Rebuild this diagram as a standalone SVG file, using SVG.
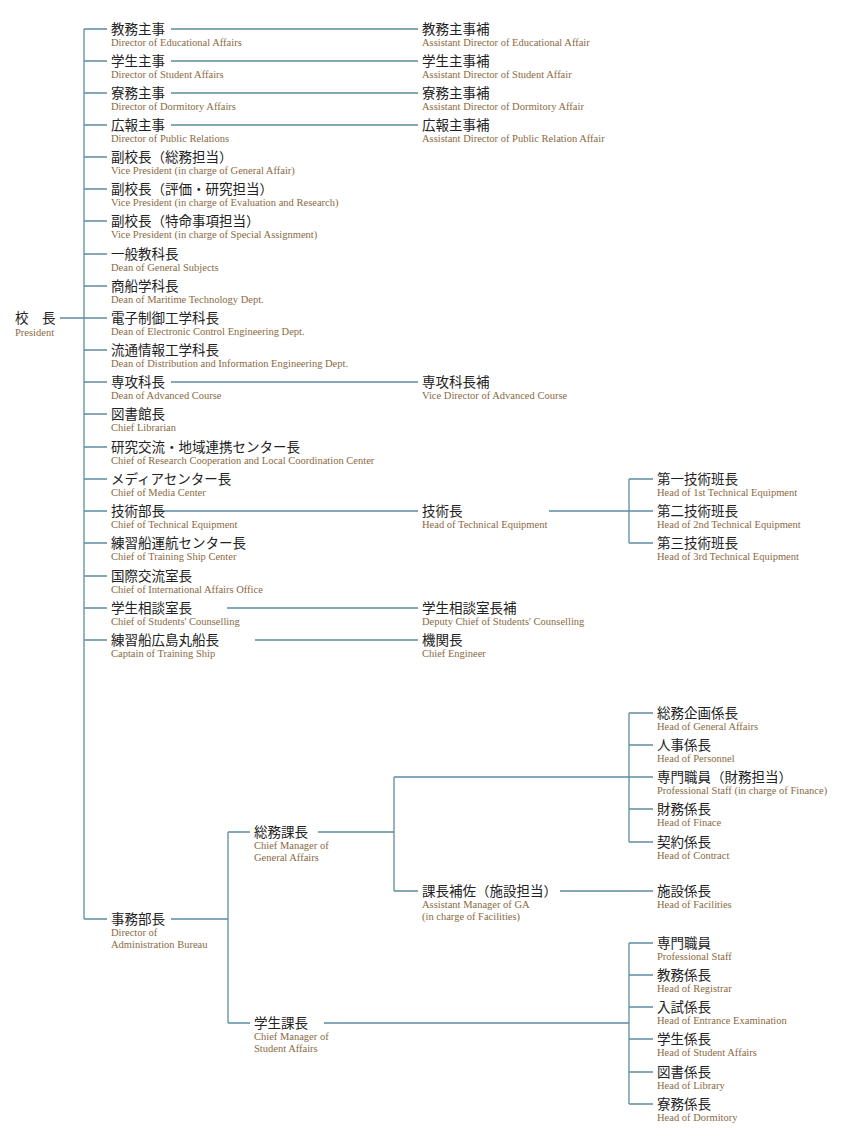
<svg xmlns="http://www.w3.org/2000/svg" width="860" height="1146" viewBox="0 0 860 1146">
<style>
.j{font-family:"Noto Sans CJK JP","Noto Sans CJK SC",sans-serif;font-size:13.5px;fill:#222}
.e{font-family:"Liberation Serif",serif;font-size:10.5px;fill:#8a6a42}
#c path{fill:none;stroke:#5e8ca2;stroke-width:1.3}
</style>
<rect width="860" height="1146" fill="#fff"/>
<g id="c"><path d="M60 318H84M84 29V919M84 29H107M84 61H107M84 93H107M84 125H107M84 157H107M84 189H107M84 221H107M84 254H107M84 286H107M84 318H107M84 350H107M84 382H107M84 414H107M84 447H107M84 479H107M84 511H107M84 543H107M84 576H107M84 608H107M84 640H107M84 919H107
M171 29H418M171 61H418M171 93H418M171 125H418M171 382H418M157 511H418M227 608H418M255 640H418
M549 511H629M629 479V543M629 479H653M629 511H653M629 543H653
M171 919H228M228 832V1023M228 832H250M228 1023H250
M318 832H394M394 777V891M394 777H629M394 891H418M560 891H653
M629 713V842M629 713H653M629 745H653M629 809H653M629 842H653M629 777H653
M324 1023H629M629 943V1104M629 943H653M629 975H653M629 1007H653M629 1039H653M629 1072H653M629 1104H653"/></g>
<g id="n0"><text class="j" x="15" y="323">校　長</text><text class="e" x="15" y="336">President</text></g>
<g id="n1"><text class="j" x="111" y="34">教務主事</text><text class="e" x="111" y="46">Director of Educational Affairs</text></g>
<g id="n2"><text class="j" x="111" y="66">学生主事</text><text class="e" x="111" y="78">Director of Student Affairs</text></g>
<g id="n3"><text class="j" x="111" y="98">寮務主事</text><text class="e" x="111" y="110">Director of Dormitory Affairs</text></g>
<g id="n4"><text class="j" x="111" y="130">広報主事</text><text class="e" x="111" y="142">Director of Public Relations</text></g>
<g id="n5"><text class="j" x="111" y="162">副校長（総務担当）</text><text class="e" x="111" y="174">Vice President (in charge of General Affair)</text></g>
<g id="n6"><text class="j" x="111" y="194">副校長（評価・研究担当）</text><text class="e" x="111" y="206">Vice President (in charge of Evaluation and Research)</text></g>
<g id="n7"><text class="j" x="111" y="226">副校長（特命事項担当）</text><text class="e" x="111" y="238">Vice President (in charge of Special Assignment)</text></g>
<g id="n8"><text class="j" x="111" y="259">一般教科長</text><text class="e" x="111" y="271">Dean of General Subjects</text></g>
<g id="n9"><text class="j" x="111" y="291">商船学科長</text><text class="e" x="111" y="303">Dean of Maritime Technology Dept.</text></g>
<g id="n10"><text class="j" x="111" y="323">電子制御工学科長</text><text class="e" x="111" y="335">Dean of Electronic Control Engineering Dept.</text></g>
<g id="n11"><text class="j" x="111" y="355">流通情報工学科長</text><text class="e" x="111" y="367">Dean of Distribution and Information Engineering Dept.</text></g>
<g id="n12"><text class="j" x="111" y="387">専攻科長</text><text class="e" x="111" y="399">Dean of Advanced Course</text></g>
<g id="n13"><text class="j" x="111" y="419">図書館長</text><text class="e" x="111" y="431">Chief Librarian</text></g>
<g id="n14"><text class="j" x="111" y="452">研究交流・地域連携センター長</text><text class="e" x="111" y="464">Chief of Research Cooperation and Local Coordination Center</text></g>
<g id="n15"><text class="j" x="111" y="484">メディアセンター長</text><text class="e" x="111" y="496">Chief of Media Center</text></g>
<g id="n16"><text class="j" x="111" y="516">技術部長</text><text class="e" x="111" y="528">Chief of Technical Equipment</text></g>
<g id="n17"><text class="j" x="111" y="548">練習船運航センター長</text><text class="e" x="111" y="560">Chief of Training Ship Center</text></g>
<g id="n18"><text class="j" x="111" y="581">国際交流室長</text><text class="e" x="111" y="593">Chief of International Affairs Office</text></g>
<g id="n19"><text class="j" x="111" y="613">学生相談室長</text><text class="e" x="111" y="625">Chief of Students' Counselling</text></g>
<g id="n20"><text class="j" x="111" y="645">練習船広島丸船長</text><text class="e" x="111" y="657">Captain of Training Ship</text></g>
<g id="r1"><text class="j" x="422" y="34">教務主事補</text><text class="e" x="422" y="46">Assistant Director of Educational Affair</text></g>
<g id="r2"><text class="j" x="422" y="66">学生主事補</text><text class="e" x="422" y="78">Assistant Director of Student Affair</text></g>
<g id="r3"><text class="j" x="422" y="98">寮務主事補</text><text class="e" x="422" y="110">Assistant Director of Dormitory Affair</text></g>
<g id="r4"><text class="j" x="422" y="130">広報主事補</text><text class="e" x="422" y="142">Assistant Director of Public Relation Affair</text></g>
<g id="r5"><text class="j" x="422" y="387">専攻科長補</text><text class="e" x="422" y="399">Vice Director of Advanced Course</text></g>
<g id="r6"><text class="j" x="422" y="516">技術長</text><text class="e" x="422" y="528">Head of Technical Equipment</text></g>
<g id="r7"><text class="j" x="422" y="613">学生相談室長補</text><text class="e" x="422" y="625">Deputy Chief of Students' Counselling</text></g>
<g id="r8"><text class="j" x="422" y="645">機関長</text><text class="e" x="422" y="657">Chief Engineer</text></g>
<g id="t1"><text class="j" x="657" y="484">第一技術班長</text><text class="e" x="657" y="496">Head of 1st Technical Equipment</text></g>
<g id="t2"><text class="j" x="657" y="516">第二技術班長</text><text class="e" x="657" y="528">Head of 2nd Technical Equipment</text></g>
<g id="t3"><text class="j" x="657" y="548">第三技術班長</text><text class="e" x="657" y="560">Head of 3rd Technical Equipment</text></g>
<g id="a0"><text class="j" x="111" y="924">事務部長</text><text class="e" x="111" y="936">Director of</text><text class="e" x="111" y="948">Administration Bureau</text></g>
<g id="a1"><text class="j" x="254" y="837">総務課長</text><text class="e" x="254" y="849">Chief Manager of</text><text class="e" x="254" y="861">General Affairs</text></g>
<g id="a2"><text class="j" x="254" y="1028">学生課長</text><text class="e" x="254" y="1040">Chief Manager of</text><text class="e" x="254" y="1052">Student Affairs</text></g>
<g id="a3"><text class="j" x="422" y="896">課長補佐（施設担当）</text><text class="e" x="422" y="908">Assistant Manager of GA</text><text class="e" x="422" y="920">(in charge of Facilities)</text></g>
<g id="g1"><text class="j" x="657" y="718">総務企画係長</text><text class="e" x="657" y="730">Head of General Affairs</text></g>
<g id="g2"><text class="j" x="657" y="750">人事係長</text><text class="e" x="657" y="762">Head of Personnel</text></g>
<g id="g3"><text class="j" x="657" y="782">専門職員（財務担当）</text><text class="e" x="657" y="794">Professional Staff (in charge of Finance)</text></g>
<g id="g4"><text class="j" x="657" y="814">財務係長</text><text class="e" x="657" y="826">Head of Finace</text></g>
<g id="g5"><text class="j" x="657" y="847">契約係長</text><text class="e" x="657" y="859">Head of Contract</text></g>
<g id="g6"><text class="j" x="657" y="896">施設係長</text><text class="e" x="657" y="908">Head of Facilities</text></g>
<g id="s1"><text class="j" x="657" y="948">専門職員</text><text class="e" x="657" y="960">Professional Staff</text></g>
<g id="s2"><text class="j" x="657" y="980">教務係長</text><text class="e" x="657" y="992">Head of Registrar</text></g>
<g id="s3"><text class="j" x="657" y="1012">入試係長</text><text class="e" x="657" y="1024">Head of Entrance Examination</text></g>
<g id="s4"><text class="j" x="657" y="1044">学生係長</text><text class="e" x="657" y="1056">Head of Student Affairs</text></g>
<g id="s5"><text class="j" x="657" y="1077">図書係長</text><text class="e" x="657" y="1089">Head of Library</text></g>
<g id="s6"><text class="j" x="657" y="1109">寮務係長</text><text class="e" x="657" y="1121">Head of Dormitory</text></g>
</svg>
